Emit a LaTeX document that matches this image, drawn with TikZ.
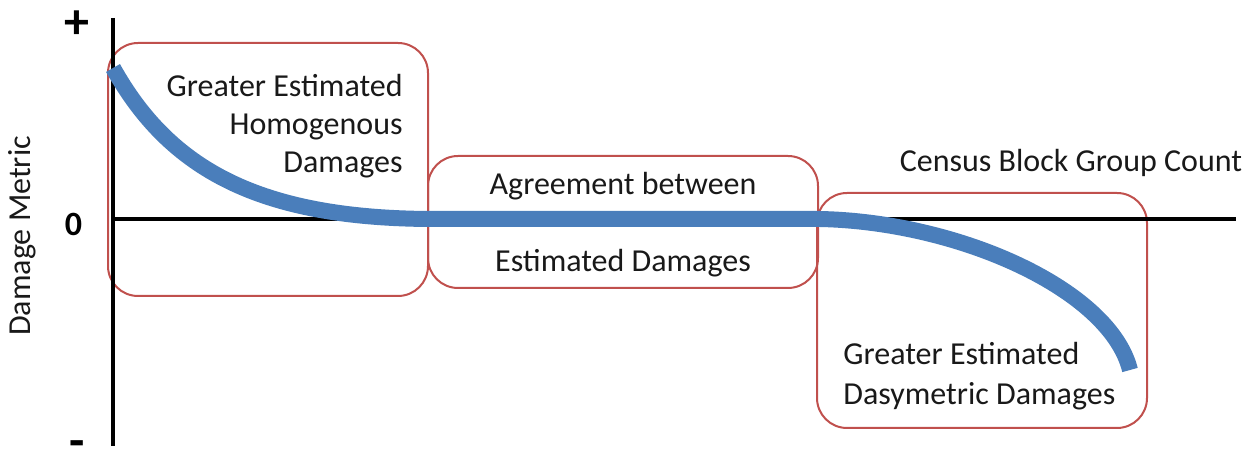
\documentclass[tikz,border=0pt]{standalone}
\usepackage{fontspec}
\setmainfont{Carlito}
\usepackage{xcolor}
\usepackage{tikz}
\definecolor{curveblue}{RGB}{74,126,187}
\definecolor{boxred}{RGB}{192,80,77}
\tikzstyle{node:region}=[draw=boxred,line width=1pt,rounded corners=15pt,inner sep=0pt]
\tikzstyle{node:label}=[font=\fontsize{16}{19}\selectfont,inner sep=0pt,text=black!90]
\tikzstyle{node:sign}=[font=\fontsize{25}{26}\selectfont\bfseries,inner sep=0pt]
\tikzstyle{node:zero}=[font=\fontsize{17}{18}\selectfont\bfseries,inner sep=0pt]
\tikzstyle{draw:axis}=[line width=2pt]
\tikzstyle{draw:curve}=[line width=8pt,curveblue]

\begin{document}
\begin{tikzpicture}[x=0.5pt,y=-0.5pt]
        \useasboundingbox (0,0) rectangle (1253,458);

        % Regions
        \node[node:region,minimum width=160pt,minimum height=126.5pt] (hom) at (268,169.5) {};
        \node[node:region,minimum width=195pt,minimum height=66pt] (agree) at (623,222) {};
        \node[node:region,minimum width=165pt,minimum height=117.5pt] (dasy) at (982,310.5) {};

        % Axes
        \coordinate (ytop) at (113,18);
        \coordinate (ybot) at (113,446);
        \coordinate (orig) at (113,219);
        \coordinate (xend) at (1236,219);
        \draw[draw:axis] (ytop) -- (ybot);
        \draw[draw:axis] (orig) -- (xend);

        % Damage curve
        \coordinate (c0) at (113,68);
        \coordinate (c1) at (430,219);
        \coordinate (c2) at (820,219);
        \coordinate (c3) at (1130,370);
        \draw[draw:curve] (c0) .. controls (170,170) and (260,218) .. (c1) -- (c2)
            .. controls (960,222) and (1110,290) .. (c3);

        % Axis labels
        \node[node:sign] (plus) at (76.5,25) {+};
        \node[node:zero] (zero) at (73.5,224) {0};
        \node[node:sign] (minus) at (77,449) {-};
        \node[node:label,rotate=90] (ylabel) at (22,236) {Damage Metric};
        \node[node:label,anchor=base] (xlabel) at (1071,172) {Census Block Group Count};

        % Region labels
        \node[node:label,anchor=north east,align=right] (homtext) at (403,73.5)
            {Greater Estimated\\Homogenous\\Damages};
        \node[node:label,anchor=base] (agreetop) at (623,195) {Agreement between};
        \node[node:label,anchor=base] (agreebot) at (623,272) {Estimated Damages};
        \node[node:label,anchor=north west,align=left] (dasytext) at (843,342)
            {Greater Estimated\\[1pt]Dasymetric Damages};

    \end{tikzpicture}
\end{document}
